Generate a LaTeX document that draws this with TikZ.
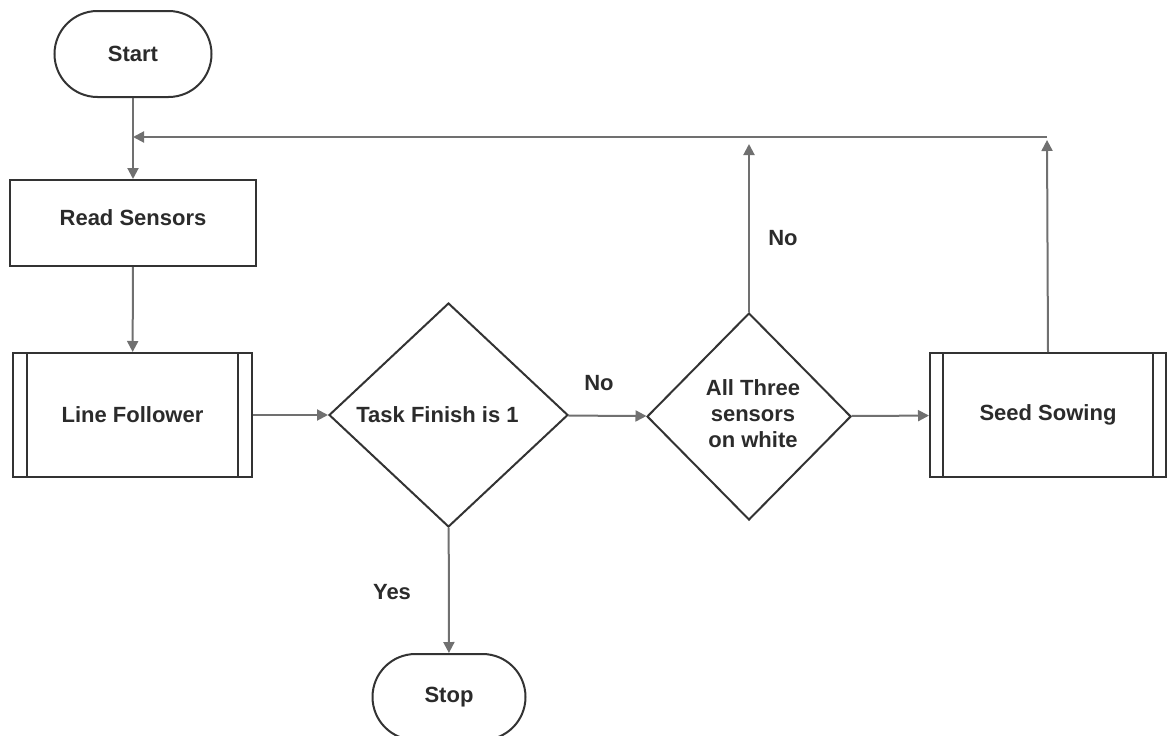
\documentclass[tikz,border=0pt]{standalone}
\usepackage{fontspec}
\setmainfont{Liberation Sans}
\usetikzlibrary{shapes.geometric,arrows.meta,positioning}

\definecolor{boxline}{HTML}{333333}
\definecolor{connline}{HTML}{707070}
\definecolor{txt}{HTML}{2B2B2B}

\tikzset{
  base/.style={draw=boxline, line width=2pt, text=txt, font=\fontsize{22}{27}\selectfont\bfseries, align=center, inner sep=0pt},
  term/.style={base, rectangle, rounded corners=43pt, minimum width=157pt, minimum height=86pt},
  proc/.style={base, rectangle, minimum width=246pt, minimum height=86pt},
  subproc/.style={base, rectangle, minimum height=124pt},
  decide/.style={base, diamond, aspect=1},
  conn/.style={draw=connline, line width=2pt, -{Triangle[length=11pt,width=11pt]}},
  lbl/.style={text=txt, font=\fontsize{22}{27}\selectfont\bfseries}
}

\begin{document}
\begin{tikzpicture}[x=1pt,y=-1pt]
\useasboundingbox (0,0) rectangle (1168,736);

\node[term] (start) at (133,54) {Start};
\node[proc] (read) at (133,223) {\raisebox{10pt}{Read Sensors}};
\node[subproc, minimum width=239pt] (lf) at (132.5,415) {Line Follower};
\node[decide, minimum width=239pt, minimum height=224pt] (task) at (448.5,415) {Task Finish is 1\kern22pt};
\node[decide, minimum width=204pt, minimum height=207pt] (three) at (749,416.5) {\raisebox{6pt}{\begin{tabular}{@{}c@{}}All Three\\[-1pt] sensors\\[-1pt] on white\end{tabular}}\kern-8pt};
\node[subproc, minimum width=236pt] (seed) at (1048,415) {Seed Sowing};
\node[term, minimum width=153pt] (stop) at (449,697) {\raisebox{-3pt}{Stop}};

% inner bars of the sub-process boxes
\foreach \n/\d in {lf/15pt, seed/14pt} {
\draw[boxline, line width=2pt] ([xshift=\d]\n.north west) -- ([xshift=\d]\n.south west);
\draw[boxline, line width=2pt] ([xshift=-\d]\n.north east) -- ([xshift=-\d]\n.south east);
}

% loop back line
\coordinate (fbR) at (1047,137);
\coordinate (fbL) at (133,137);

\draw[conn] (start) -- (read);
\draw[conn] (read) -- (lf);
\draw[conn] (lf) -- (task);
\draw[conn] (task) -- (three);
\draw[conn] (three) -- (seed);
\draw[conn] (task) -- (stop);
\draw[conn, shorten >=3pt] (seed.north) -- (fbR);
\draw[conn, shorten >=7pt] (three.north) -- (three.north |- fbR);
\draw[conn] (fbR) -- (fbL);

\node[lbl] (no1) at (599,383) {No};
\node[lbl] (no2) at (783,238) {No};
\node[lbl] (yes) at (392,592) {Yes};
\end{tikzpicture}
\end{document}
